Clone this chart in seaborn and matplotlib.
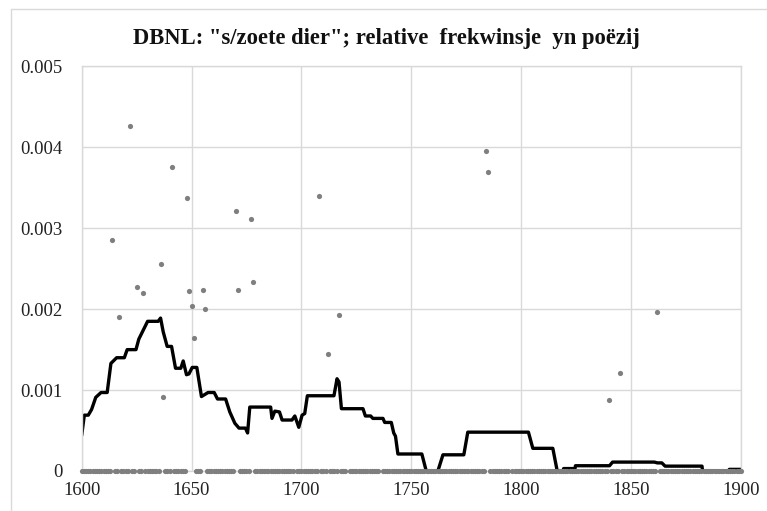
import matplotlib
matplotlib.use("Agg")
import matplotlib.pyplot as plt
import seaborn as sns
import pandas as pd
from matplotlib.lines import Line2D

# ---- data ----
point_years = [1614, 1617, 1622, 1625, 1628, 1636, 1637, 1641, 1648, 1649, 1650,
               1651, 1655, 1656, 1670, 1671, 1677, 1678, 1708, 1712, 1717,
               1784, 1785, 1840, 1845, 1862]
point_vals = [0.00285, 0.00190, 0.00427, 0.00227, 0.00220, 0.00256, 0.00092,
              0.00376, 0.00338, 0.00223, 0.00204, 0.00164, 0.00224, 0.00200,
              0.00321, 0.00224, 0.00311, 0.00233, 0.00340, 0.00145, 0.00193,
              0.00396, 0.00370, 0.00088, 0.00121, 0.00196]
missing_years = [1697, 1721, 1736, 1795]
zero_years = [y for y in range(1600, 1901) if y not in point_years and y not in missing_years]

line_years = [1600, 1601.2, 1603, 1604.5, 1606.4, 1608.8, 1611.6, 1613.3, 1615.9, 1619.4,
              1620.7, 1624.7, 1626, 1630, 1634.8, 1635.9, 1637.1, 1638.9, 1640.9, 1642.7,
              1645.1, 1646.2, 1647.7, 1648.8, 1650.3, 1652.4, 1654.5, 1657.5, 1660.3, 1661.8,
              1665.5, 1667.4, 1669.7, 1671.6, 1674.5, 1675.5, 1676.5, 1686, 1686.6, 1687.9,
              1690, 1691.2, 1695.7, 1697, 1698.8, 1700.3, 1701.5, 1702.7, 1714.8, 1716.2,
              1717.1, 1718.2, 1728, 1729.1, 1731.5, 1732.5, 1737.1, 1737.9, 1740.9, 1742,
              1742.8, 1743.9, 1754.8, 1756.8, 1762.1, 1764.4, 1773.9, 1775.7, 1803.3, 1805.3,
              1814.4, 1816.4, 1819.2, 1819.3, 1824.5, 1824.7, 1840.2, 1841.6, 1860.6, 1862,
              1864, 1865.5, 1882.3, 1882.5, 1894.5, 1894.7, 1900]
line_vals = [0.00044, 0.00069, 0.00069, 0.00076, 0.00091, 0.00097, 0.00097, 0.00133, 0.00140, 0.00140,
             0.00150, 0.00150, 0.00163, 0.00185, 0.00185, 0.00189, 0.00172, 0.00154, 0.00154, 0.00127,
             0.00127, 0.00136, 0.00119, 0.00120, 0.00128, 0.00128, 0.00092, 0.00097, 0.00097, 0.00089,
             0.00089, 0.00073, 0.00059, 0.00053, 0.00053, 0.00047, 0.00079, 0.00079, 0.00065, 0.00074,
             0.00073, 0.00063, 0.00063, 0.00068, 0.00054, 0.00069, 0.00071, 0.00093, 0.00093, 0.00114,
             0.00110, 0.00077, 0.00077, 0.00068, 0.00068, 0.00065, 0.00065, 0.00060, 0.00060, 0.00047,
             0.00043, 0.00021, 0.00021, 0.0, 0.0, 0.00020, 0.00020, 0.00048, 0.00048, 0.00028,
             0.00028, 0.0, 0.0, 0.00003, 0.00003, 0.000065, 0.000065, 0.00011, 0.00011, 0.00010,
             0.00010, 0.00006, 0.00006, 0.0, 0.0, 0.00002, 0.00002]

x_ticks = [1600, 1650, 1700, 1750, 1800, 1850, 1900]
y_ticks = [0, 0.001, 0.002, 0.003, 0.004, 0.005]
y_tick_labels = ["0", "0.001", "0.002", "0.003", "0.004", "0.005"]
title = 'DBNL: "s/zoete dier"; relative  frekwinsje  yn poëzij'

# ---- plotting ----
sns.set_theme(style="white")
plt.rcParams["font.family"] = ["Liberation Serif", "DejaVu Serif"]

fig = plt.figure(figsize=(7.67, 5.11), dpi=100)
ax = fig.add_axes([0.1065, 0.0783, 0.8595, 0.7916])

pts = pd.DataFrame({"year": point_years + zero_years,
                    "val": point_vals + [0.0] * len(zero_years)})
line = pd.DataFrame({"year": line_years, "val": line_vals})

sns.lineplot(data=line, x="year", y="val", ax=ax, color="black", linewidth=2.4,
             sort=False, estimator=None, zorder=2)
sns.scatterplot(data=pts, x="year", y="val", ax=ax, color="#7f7f7f", s=14,
                linewidth=0, zorder=3, clip_on=False)

ax.set_xlim(1600, 1900)
ax.set_ylim(0, 0.005)
ax.set_xticks(x_ticks)
ax.set_yticks(y_ticks)
ax.set_yticklabels(y_tick_labels)
ax.set_xlabel("")
ax.set_ylabel("")
ax.grid(True, color="#d9d9d9", linewidth=1.0)
ax.set_axisbelow(True)
for s in ax.spines.values():
    s.set_color("#d9d9d9")
    s.set_linewidth(1.0)
ax.tick_params(axis="both", length=0, labelsize=13.5, colors="#222222")
ax.tick_params(axis="y", pad=14)
ax.tick_params(axis="x", pad=8)

fig.text(0.504, 0.925, title, ha="center", va="center", fontsize=16.3,
         fontweight="bold", color="#111111")

# outer chart border (partially visible)
fig.add_artist(Line2D([11 / 767, 11 / 767], [0, 1 - 9 / 511], color="#d9d9d9",
                      linewidth=1.0, transform=fig.transFigure))
fig.add_artist(Line2D([11 / 767, 1], [1 - 9 / 511, 1 - 9 / 511], color="#d9d9d9",
                      linewidth=1.0, transform=fig.transFigure))

fig.savefig("out.png", dpi=100)
